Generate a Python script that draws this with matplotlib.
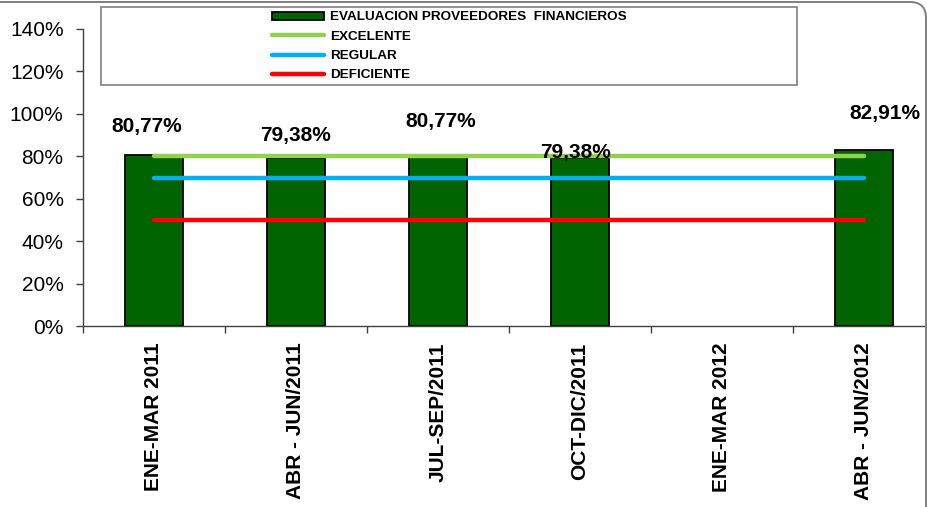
import numpy as np
import matplotlib
matplotlib.use("Agg")
import matplotlib.pyplot as plt
from matplotlib.patches import Patch, Rectangle, FancyBboxPatch
from matplotlib.lines import Line2D
from matplotlib.transforms import IdentityTransform

# ---- data ----
categories = ["ENE-MAR 2011", "ABR - JUN/2011", "JUL-SEP/2011",
              "OCT-DIC/2011", "ENE-MAR 2012", "ABR - JUN/2012"]
evaluacion = [80.77, 79.38, 80.77, 79.38, np.nan, 82.91]
excelente = [80, 80, 80, 80, 80, 80]
regular = [70, 70, 70, 70, 70, 70]
deficiente = [50, 50, 50, 50, 50, 50]
yticks = [0, 20, 40, 60, 80, 100, 120, 140]
series_names = ["EVALUACION PROVEEDORES  FINANCIEROS", "EXCELENTE", "REGULAR", "DEFICIENTE"]

# label placement (style): offsets from bar top / bar centre
label_dy = [13.5, 10.2, 15.4, 2.2, 0, 17.1]
label_dx = [-0.05, 0.0, 0.02, -0.03, 0, 0.15]

FONT = "Liberation Sans"
plt.rcParams["font.family"] = [FONT, "DejaVu Sans"]

W, H = 928, 507
fig = plt.figure(figsize=(W / 100, H / 100), dpi=100)
fig.patch.set_facecolor("white")

# outer rounded border (partly cut off)
border = FancyBboxPatch((-60, -60), 926 + 60, 505 + 60,
                        boxstyle="round,pad=0,rounding_size=16",
                        transform=IdentityTransform(), fill=False,
                        edgecolor="#7f7f7f", lw=1.4, zorder=10)
fig.add_artist(border)

ax = fig.add_axes([83 / W, 1 - 326 / H, 852 / W, 297 / H])
x = np.arange(len(categories))

bar_green = "#006400"
ax.bar(x, evaluacion, width=0.405, color=bar_green, edgecolor="black", lw=1.3, zorder=2)
ax.plot(x, excelente, color="#92D050", lw=3.2, solid_capstyle="round", zorder=3)
ax.plot(x, regular, color="#00B0F0", lw=3.2, solid_capstyle="round", zorder=3)
ax.plot(x, deficiente, color="#FF0000", lw=3.2, solid_capstyle="round", zorder=3)

for i, v in enumerate(evaluacion):
    if np.isnan(v):
        continue
    txt = f"{v:.2f}".replace(".", ",") + "%"
    ax.text(x[i] + label_dx[i], v + label_dy[i], txt, ha="center", va="center",
            fontsize=15, fontweight="bold", family=FONT, zorder=4, color="black")

ax.set_xlim(-0.5, len(categories) - 0.5)
ax.set_ylim(0, 140)
ax.set_yticks(yticks)
ax.set_yticklabels([f"{t}%" for t in yticks], fontsize=15, family=FONT)
ax.set_xticks(x)
ax.set_xticklabels(categories, rotation=90, fontsize=15, fontweight="bold",
                   family=FONT, va="top", ha="center")
ax.set_xticks(np.arange(-0.5, len(categories)), minor=True)
ax.tick_params(axis="x", which="major", length=0, pad=12)
ax.tick_params(axis="x", which="minor", length=5, width=1, color="#404040", direction="out")
ax.tick_params(axis="y", length=5, width=1, color="#404040", pad=9, direction="out")
for s in ["top", "right"]:
    ax.spines[s].set_visible(False)
for s in ["left", "bottom"]:
    ax.spines[s].set_color("#404040")
    ax.spines[s].set_linewidth(1)

# legend box
box = Rectangle((101, H - 85), 696, 78, transform=IdentityTransform(),
                facecolor="white", edgecolor="#808080", lw=1.2, zorder=5)
fig.add_artist(box)

handles = [Patch(facecolor=bar_green, edgecolor="black", lw=1.3),
           Line2D([], [], color="#92D050", lw=3.2, solid_capstyle="round"),
           Line2D([], [], color="#00B0F0", lw=3.2, solid_capstyle="round"),
           Line2D([], [], color="#FF0000", lw=3.2, solid_capstyle="round")]
leg = fig.legend(handles, series_names, loc="upper left",
                 bbox_to_anchor=(272 / W, 1 - 11.5 / H), frameon=False,
                 borderpad=0, borderaxespad=0, handlelength=3.85, handleheight=0.5,
                 handletextpad=0.43, labelspacing=0.54,
                 prop={"family": FONT, "weight": "bold", "size": 9.7})
leg.set_zorder(6)

fig.savefig("out.png", dpi=100, facecolor="white")
